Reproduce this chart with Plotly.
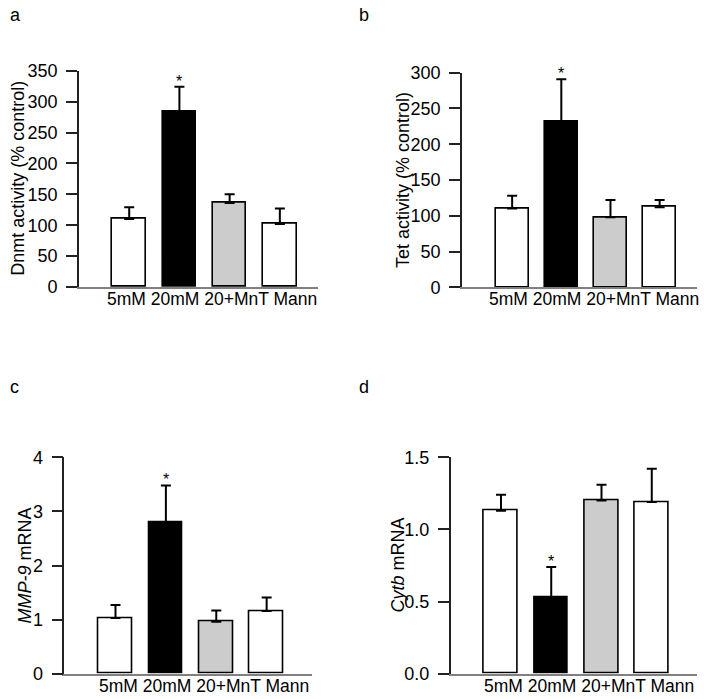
import plotly.graph_objects as go

categories = ["5mM", "20mM", "20+MnT", "Mann"]
bar_colors = ["#ffffff", "#000000", "#cccccc", "#ffffff"]

dnmt_mean = [110, 284, 136, 102]
dnmt_top = [129, 324, 150, 127]

tet_mean = [110, 231, 98, 112]
tet_top = [128, 291, 122, 122]

mmp9_mean = [1.03, 2.80, 0.96, 1.16]
mmp9_top = [1.27, 3.48, 1.17, 1.41]

cytb_mean = [1.13, 0.53, 1.20, 1.19]
cytb_top = [1.24, 0.74, 1.31, 1.42]

panels = [
    dict(letter="a", mean=dnmt_mean, top=dnmt_top, yrange=[0, 350], dtick=50, tickformat="d",
         title="Dnmt activity (% control)", xdom=[79, 318], ydom=[287, 70.7], xr=[-1, 3.76],
         title_x=18, letter_xy=(8, 15), cat_x=211.5),
    dict(letter="b", mean=tet_mean, top=tet_top, yrange=[0, 300], dtick=50, tickformat="d",
         title="Tet activity (% control)", xdom=[462, 697], ydom=[287.3, 72.7], xr=[-1.02, 3.76],
         title_x=403, letter_xy=(357, 15), cat_x=593.7),
    dict(letter="c", mean=mmp9_mean, top=mmp9_top, yrange=[0, 4], dtick=1, tickformat="d",
         title="<i>MMP-9</i> mRNA", xdom=[64.3, 312], ydom=[673.7, 457.3], xr=[-1.016, 3.9],
         title_x=24, letter_xy=(8, 387), cat_x=204),
    dict(letter="d", mean=cytb_mean, top=cytb_top, yrange=[0, 1.5], dtick=0.5, tickformat=".1f",
         title="<i>Cytb</i> mRNA", xdom=[450.7, 697], ydom=[673.7, 457.3], xr=[-1.0, 3.9],
         title_x=397, letter_xy=(357, 387), cat_x=588.5),
]

W, H = 704, 699
FONT = "Liberation Sans, Arial, sans-serif"

fig = go.Figure()
annotations = []
layout = {}

for i, p in enumerate(panels, start=1):
    xa = "x" if i == 1 else f"x{i}"
    ya = "y" if i == 1 else f"y{i}"
    plus = [t - m for t, m in zip(p["top"], p["mean"])]
    fig.add_trace(go.Bar(
        x=categories, y=p["mean"], xaxis=xa, yaxis=ya,
        width=0.67,
        marker=dict(color=bar_colors, line=dict(color="#000000", width=1.6)),
        error_y=dict(type="data", symmetric=False, array=plus, arrayminus=[0] * 4,
                     color="#000000", thickness=2, width=5),
        showlegend=False, hoverinfo="skip",
    ))
    xkey = "xaxis" if i == 1 else f"xaxis{i}"
    ykey = "yaxis" if i == 1 else f"yaxis{i}"
    layout[xkey] = dict(
        domain=[p["xdom"][0] / W, p["xdom"][1] / W], anchor=ya,
        type="category", range=p["xr"], automargin=False,
        showline=True, linecolor="#808080", linewidth=1.6,
        ticks="", showgrid=False, zeroline=False, showticklabels=False,
    )
    layout[ykey] = dict(
        domain=[(H - p["ydom"][0]) / H, (H - p["ydom"][1]) / H], anchor=xa,
        range=p["yrange"], dtick=p["dtick"], tick0=0, tickformat=p["tickformat"],
        automargin=False,
        showline=True, linecolor="#222222", linewidth=1.6,
        ticks="outside", ticklen=11, tickwidth=1.6, tickcolor="#222222",
        ticklabelstandoff=5,
        showgrid=False, zeroline=False,
        tickfont=dict(family=FONT, size=18, color="#000000"),
    )
    # category labels written as one line under the axis, as in the original
    annotations.append(dict(
        x=p["cat_x"] / W, y=0, xref="paper", yref=ya, text=" ".join(categories),
        showarrow=False, xanchor="center", yanchor="middle", yshift=-12,
        font=dict(family=FONT, size=17.5, color="#000000"),
    ))
    # significance marker
    annotations.append(dict(
        x="20mM", y=p["top"][1], xref=xa, yref=ya, text="*", showarrow=False,
        yanchor="bottom", yshift=-5, font=dict(family=FONT, size=16, color="#000000"),
    ))
    # y-axis title
    ymid = (H - (p["ydom"][0] + p["ydom"][1]) / 2) / H
    annotations.append(dict(
        x=p["title_x"] / W, y=ymid, xref="paper", yref="paper", text=p["title"],
        textangle=-90, showarrow=False, xanchor="center", yanchor="middle",
        font=dict(family=FONT, size=18, color="#000000"),
    ))
    # panel letter
    lx, ly = p["letter_xy"]
    annotations.append(dict(
        x=lx / W, y=(H - ly) / H, xref="paper", yref="paper", text=p["letter"],
        showarrow=False, xanchor="left", yanchor="middle",
        font=dict(family=FONT, size=18, color="#000000"),
    ))

fig.update_layout(
    template="none",
    width=W, height=H,
    margin=dict(l=0, r=0, t=0, b=0, pad=0),
    paper_bgcolor="white", plot_bgcolor="white",
    annotations=annotations,
    bargap=0,
    **layout,
)

fig.write_html("out.html", config={"displayModeBar": False},
               post_script="document.body.style.margin='0px';")
